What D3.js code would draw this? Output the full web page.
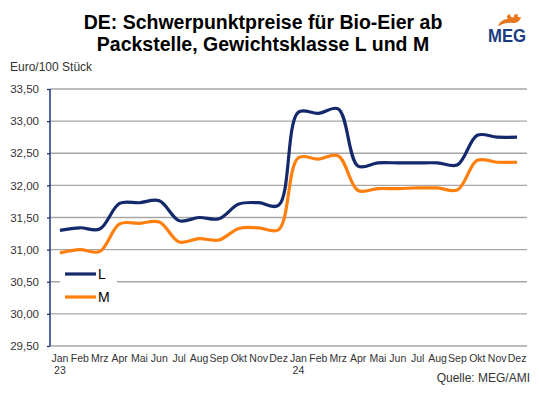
<!DOCTYPE html>
<html>
<head>
<meta charset="utf-8">
<script src="https://cdn.jsdelivr.net/npm/d3@7"></script>
<style>
  body { margin: 0; background: #fff; }
  svg { display: block; font-family: "Liberation Sans", Arial, sans-serif; }
</style>
</head>
<body>
<div id="chart"></div>
<script>
var months = ["Jan","Feb","Mrz","Apr","Mai","Jun","Jul","Aug","Sep","Okt","Nov","Dez",
              "Jan","Feb","Mrz","Apr","Mai","Jun","Jul","Aug","Sep","Okt","Nov","Dez"];
var years = ["23","","","","","","","","","","","","24","","","","","","","","","","",""];
var seriesL = [31.30,31.34,31.32,31.72,31.73,31.76,31.45,31.50,31.48,31.71,31.73,31.69,
               33.14,33.12,33.19,32.30,32.35,32.35,32.35,32.35,32.32,32.78,32.75,32.75];
var seriesM = [30.95,31.00,30.97,31.40,31.41,31.43,31.12,31.17,31.15,31.33,31.34,31.31,
               32.43,32.41,32.46,31.92,31.95,31.95,31.96,31.96,31.93,32.39,32.36,32.36];
var yTicks = [29.5,30,30.5,31,31.5,32,32.5,33,33.5];

var width = 539, height = 398;
var margin = {top: 89, right: 12, bottom: 52, left: 50};

var svg = d3.select("#chart").append("svg")
  .attr("width", width)
  .attr("height", height);

var x = d3.scaleBand()
  .domain(d3.range(months.length))
  .range([margin.left, width - margin.right]);

var y = d3.scaleLinear()
  .domain([29.5, 33.5])
  .range([height - margin.bottom, margin.top]);

var fmt = function(d) { return d3.format(".2f")(d).replace(".", ","); };

// title
var title = svg.append("text")
  .attr("text-anchor", "middle")
  .attr("font-weight", "bold")
  .attr("font-size", "19.5px")
  .attr("fill", "#000");
title.append("tspan").attr("x", 263).attr("y", 29).text("DE: Schwerpunktpreise für Bio-Eier ab");
title.append("tspan").attr("x", 263).attr("y", 51).text("Packstelle, Gewichtsklasse L und M");

// logo
var logo = svg.append("g");
logo.append("path")
  .attr("d", "M498,26 C500,21 504,19 508,19 C506,17 507,15 510,14 C510,17 512,18 514,17 C513,15 515,14 518,14 C517,16 518,18 521,17 C520,21 517,23 513,23 C509,22 504,23 498,26 Z")
  .attr("fill", "#e8761c");
logo.append("text")
  .attr("x", 488).attr("y", 42)
  .attr("font-weight", "bold")
  .attr("font-size", "19px")
  .attr("textLength", 38)
  .attr("lengthAdjust", "spacingAndGlyphs")
  .attr("fill", "#1b3c82")
  .text("MEG");

// unit
svg.append("text")
  .attr("x", 10).attr("y", 71)
  .attr("font-size", "12px")
  .attr("fill", "#333")
  .text("Euro/100 Stück");

// grid lines
svg.append("g").selectAll("line")
  .data(yTicks)
  .enter().append("line")
  .attr("x1", margin.left).attr("x2", width - margin.right)
  .attr("y1", function(d) { return y(d); })
  .attr("y2", function(d) { return y(d); })
  .attr("stroke", "#a6a6a6")
  .attr("stroke-width", 1.3);

// y axis
var yAxis = svg.append("g")
  .attr("transform", "translate(" + margin.left + ",0)")
  .call(d3.axisLeft(y).tickValues(yTicks).tickFormat(fmt).tickSize(3).tickPadding(8));
yAxis.select(".domain").attr("stroke", "#1f3677").attr("stroke-width", 1.5).attr("d", "M0," + y(33.5) + "V" + y(29.5));
yAxis.selectAll(".tick line").attr("stroke", "#1f3677").attr("stroke-width", 1.3);
yAxis.selectAll("text").attr("font-size", "11.5px").attr("fill", "#333").attr("font-family", null);

// x labels
svg.append("g").selectAll("text")
  .data(months)
  .enter().append("text")
  .attr("text-anchor", "middle")
  .attr("font-size", "10.5px")
  .attr("fill", "#333")
  .attr("x", function(d, i) { return x(i) + x.bandwidth() / 2; })
  .attr("y", 362)
  .text(function(d) { return d; });

svg.append("g").selectAll("text")
  .data(years)
  .enter().append("text")
  .attr("text-anchor", "middle")
  .attr("font-size", "10.5px")
  .attr("fill", "#333")
  .attr("x", function(d, i) { return x(i) + x.bandwidth() / 2; })
  .attr("y", 374)
  .text(function(d) { return d; });

// lines (smoothed like excel)
var line = d3.line()
  .x(function(d, i) { return x(i) + x.bandwidth() / 2; })
  .y(function(d) { return y(d); })
  .curve(d3.curveCatmullRom.alpha(0.5));

svg.append("path")
  .datum(seriesM)
  .attr("d", line)
  .attr("fill", "none")
  .attr("stroke", "#ff7f0e")
  .attr("stroke-width", 3.2);

svg.append("path")
  .datum(seriesL)
  .attr("d", line)
  .attr("fill", "none")
  .attr("stroke", "#14296b")
  .attr("stroke-width", 3.2);

// legend
var legend = svg.append("g");
legend.append("rect")
  .attr("x", 60).attr("y", 262).attr("width", 57).attr("height", 46)
  .attr("fill", "#fff");
var legItems = [{name: "L", color: "#14296b", y: 274}, {name: "M", color: "#ff7f0e", y: 297}];
legItems.forEach(function(d) {
  legend.append("line")
    .attr("x1", 65).attr("x2", 96)
    .attr("y1", d.y).attr("y2", d.y)
    .attr("stroke", d.color)
    .attr("stroke-width", 3.2);
  legend.append("text")
    .attr("x", 98).attr("y", d.y + 5)
    .attr("font-size", "14px")
    .attr("fill", "#000")
    .text(d.name);
});

// source
svg.append("text")
  .attr("x", 530).attr("y", 382)
  .attr("text-anchor", "end")
  .attr("font-size", "12px")
  .attr("fill", "#333")
  .text("Quelle: MEG/AMI");
</script>
</body>
</html>
